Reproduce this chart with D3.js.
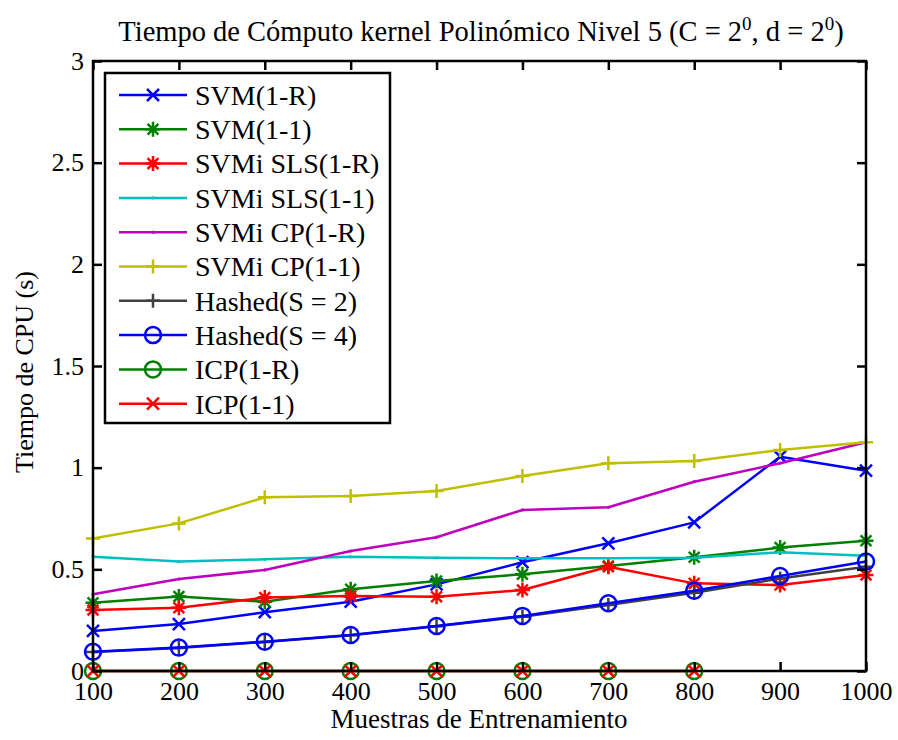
<!DOCTYPE html>
<html>
<head>
<meta charset="utf-8">
<script src="https://cdn.jsdelivr.net/npm/d3@7"></script>
<style>
  html, body { margin: 0; padding: 0; background: #fff; }
  svg text { font-family: "Liberation Serif", "Times New Roman", serif; fill: #000; }
</style>
</head>
<body>
<svg id="chart" width="898" height="740"></svg>
<script>
// Training sample sizes (x axis)
const samples = [100, 200, 300, 400, 500, 600, 700, 800, 900, 1000];
const samplesICP = [100, 200, 300, 400, 500, 600, 700, 800];

// CPU time (s) per method
const svm1R      = [0.197, 0.231, 0.289, 0.341, 0.426, 0.535, 0.628, 0.731, 1.054, 0.985];
const svm11      = [0.336, 0.366, 0.341, 0.402, 0.443, 0.476, 0.516, 0.559, 0.607, 0.641];
const svmiSls1R  = [0.300, 0.311, 0.361, 0.369, 0.365, 0.398, 0.513, 0.431, 0.423, 0.472];
const svmiSls11  = [0.562, 0.538, 0.549, 0.562, 0.557, 0.554, 0.554, 0.557, 0.584, 0.567];
const svmiCp1R   = [0.377, 0.452, 0.497, 0.590, 0.658, 0.792, 0.805, 0.931, 1.022, 1.125];
const svmiCp11   = [0.652, 0.726, 0.854, 0.861, 0.885, 0.959, 1.022, 1.033, 1.087, 1.125];
const hashedS2   = [0.094, 0.113, 0.143, 0.176, 0.220, 0.267, 0.325, 0.385, 0.455, 0.513];
const hashedS4   = [0.095, 0.115, 0.144, 0.177, 0.221, 0.271, 0.333, 0.395, 0.467, 0.538];
const icp1R      = [0, 0, 0, 0, 0, 0, 0, 0];
const icp11      = [0, 0, 0, 0, 0, 0, 0, 0];

const xTicks = [100, 200, 300, 400, 500, 600, 700, 800, 900, 1000];
const yTicks = [0, 0.5, 1, 1.5, 2, 2.5, 3];

const series = [
  { name: "SVM(1-R)",         xs: samples,    ys: svm1R,     color: "#0000ff", marker: "x" },
  { name: "SVM(1-1)",         xs: samples,    ys: svm11,     color: "#008000", marker: "*" },
  { name: "SVMi SLS(1-R)",    xs: samples,    ys: svmiSls1R, color: "#ff0000", marker: "*" },
  { name: "SVMi SLS(1-1)",    xs: samples,    ys: svmiSls11, color: "#00bfbf", marker: "." },
  { name: "SVMi CP(1-R)",     xs: samples,    ys: svmiCp1R,  color: "#bf00bf", marker: "." },
  { name: "SVMi CP(1-1)",     xs: samples,    ys: svmiCp11,  color: "#bfbf00", marker: "+" },
  { name: "Hashed(S = 2)",    xs: samples,    ys: hashedS2,  color: "#404040", marker: "+" },
  { name: "Hashed(S = 4)",    xs: samples,    ys: hashedS4,  color: "#0000ff", marker: "o" },
  { name: "ICP(1-R)",         xs: samplesICP, ys: icp1R,     color: "#008000", marker: "o" },
  { name: "ICP(1-1)",         xs: samplesICP, ys: icp11,     color: "#ff0000", marker: "x" }
];

const svg = d3.select("#chart");
const pLeft = 93, pRight = 866, pTop = 61, pBottom = 671;

const x = d3.scaleLinear().domain([100, 1000]).range([pLeft, pRight]);
const y = d3.scaleLinear().domain([0, 3]).range([pBottom, pTop]);

// Marker glyphs, MATLAB style
function drawMarker(g, type, cx, cy, color) {
  const s = 6;
  if (type === "x") {
    g.append("path").attr("d", `M${cx-s},${cy-s}L${cx+s},${cy+s}M${cx-s},${cy+s}L${cx+s},${cy-s}`)
      .attr("stroke", color).attr("stroke-width", 2.5).attr("fill", "none");
  } else if (type === "+") {
    g.append("path").attr("d", `M${cx-s-1},${cy}L${cx+s+1},${cy}M${cx},${cy-s-1}L${cx},${cy+s+1}`)
      .attr("stroke", color).attr("stroke-width", 2.5).attr("fill", "none");
  } else if (type === "*") {
    const r = 7.5;
    g.append("path").attr("d",
      `M${cx-r},${cy}L${cx+r},${cy}M${cx},${cy-r}L${cx},${cy+r}` +
      `M${cx-r*0.72},${cy-r*0.72}L${cx+r*0.72},${cy+r*0.72}M${cx-r*0.72},${cy+r*0.72}L${cx+r*0.72},${cy-r*0.72}`)
      .attr("stroke", color).attr("stroke-width", 2.5).attr("fill", "none");
  } else if (type === "o") {
    g.append("circle").attr("cx", cx).attr("cy", cy).attr("r", 8)
      .attr("stroke", color).attr("stroke-width", 2.5).attr("fill", "none");
  } else if (type === ".") {
    g.append("circle").attr("cx", cx).attr("cy", cy).attr("r", 1.6).attr("fill", color);
  }
}

const line = d3.line();

// Series lines and markers
const plot = svg.append("g");
series.forEach(s => {
  const pts = s.xs.map((v, i) => [x(v), y(s.ys[i])]);
  const g = plot.append("g");
  g.append("path").attr("d", line(pts)).attr("fill", "none")
    .attr("stroke", s.color).attr("stroke-width", 2.5).attr("stroke-linejoin", "round");
  pts.forEach(p => drawMarker(g, s.marker, p[0], p[1], s.color));
});

// Axes: ticks point inward on all four sides
const fontSize = 26;
const axB = svg.append("g").attr("transform", `translate(0,${pBottom})`)
  .call(d3.axisBottom(x).tickValues(xTicks).tickFormat(d3.format("d")).tickSizeInner(-9).tickSizeOuter(0).tickPadding(11));
const axT = svg.append("g").attr("transform", `translate(0,${pTop})`)
  .call(d3.axisTop(x).tickValues(xTicks).tickFormat("").tickSizeInner(-9).tickSizeOuter(0));
const axL = svg.append("g").attr("transform", `translate(${pLeft},0)`)
  .call(d3.axisLeft(y).tickValues(yTicks).tickFormat(d => String(d)).tickSizeInner(-9).tickSizeOuter(0).tickPadding(9));
const axR = svg.append("g").attr("transform", `translate(${pRight},0)`)
  .call(d3.axisRight(y).tickValues(yTicks).tickFormat("").tickSizeInner(-9).tickSizeOuter(0));

[axB, axT, axL, axR].forEach(a => {
  a.select(".domain").remove();
  a.selectAll(".tick line").attr("stroke", "#000").attr("stroke-width", 2.5);
  a.selectAll(".tick text").attr("font-size", fontSize).attr("font-family", "Liberation Serif");
});
axB.selectAll(".tick text").attr("dy", "0.7em");

svg.append("rect").attr("x", pLeft).attr("y", pTop).attr("width", pRight - pLeft).attr("height", pBottom - pTop)
  .attr("fill", "none").attr("stroke", "#000").attr("stroke-width", 2.5);

// Legend
const legX = 105, legY = 73, legW = 285, legH = 350, rowH = 34.3;
const leg = svg.append("g");
leg.append("rect").attr("x", legX).attr("y", legY).attr("width", legW).attr("height", legH)
  .attr("fill", "#fff").attr("stroke", "#000").attr("stroke-width", 2.5);
series.forEach((s, i) => {
  const cy = legY + 22 + i * rowH;
  leg.append("line").attr("x1", 119).attr("x2", 187).attr("y1", cy).attr("y2", cy)
    .attr("stroke", s.color).attr("stroke-width", 2.5);
  drawMarker(leg, s.marker, 153, cy, s.color);
  leg.append("text").attr("x", 195).attr("y", cy).attr("dy", "0.35em")
    .attr("font-size", 28).text(s.name);
});

// Title with superscripts
const title = svg.append("text").attr("x", 481).attr("y", 41).attr("text-anchor", "middle").attr("font-size", 28.5);
title.append("tspan").text("Tiempo de Cómputo kernel Polinómico Nivel 5 (C = 2");
title.append("tspan").attr("dy", -11).attr("font-size", 19).text("0");
title.append("tspan").attr("dy", 11).text(", d = 2");
title.append("tspan").attr("dy", -11).attr("font-size", 19).text("0");
title.append("tspan").attr("dy", 11).text(")");

// Axis labels
svg.append("text").attr("x", 479).attr("y", 728).attr("text-anchor", "middle")
  .attr("font-size", 27).text("Muestras de Entrenamiento");
svg.append("text").attr("transform", `translate(33,${(pTop + pBottom) / 2 + 6}) rotate(-90)`)
  .attr("text-anchor", "middle").attr("font-size", 26).text("Tiempo de CPU (s)");
</script>
</body>
</html>
